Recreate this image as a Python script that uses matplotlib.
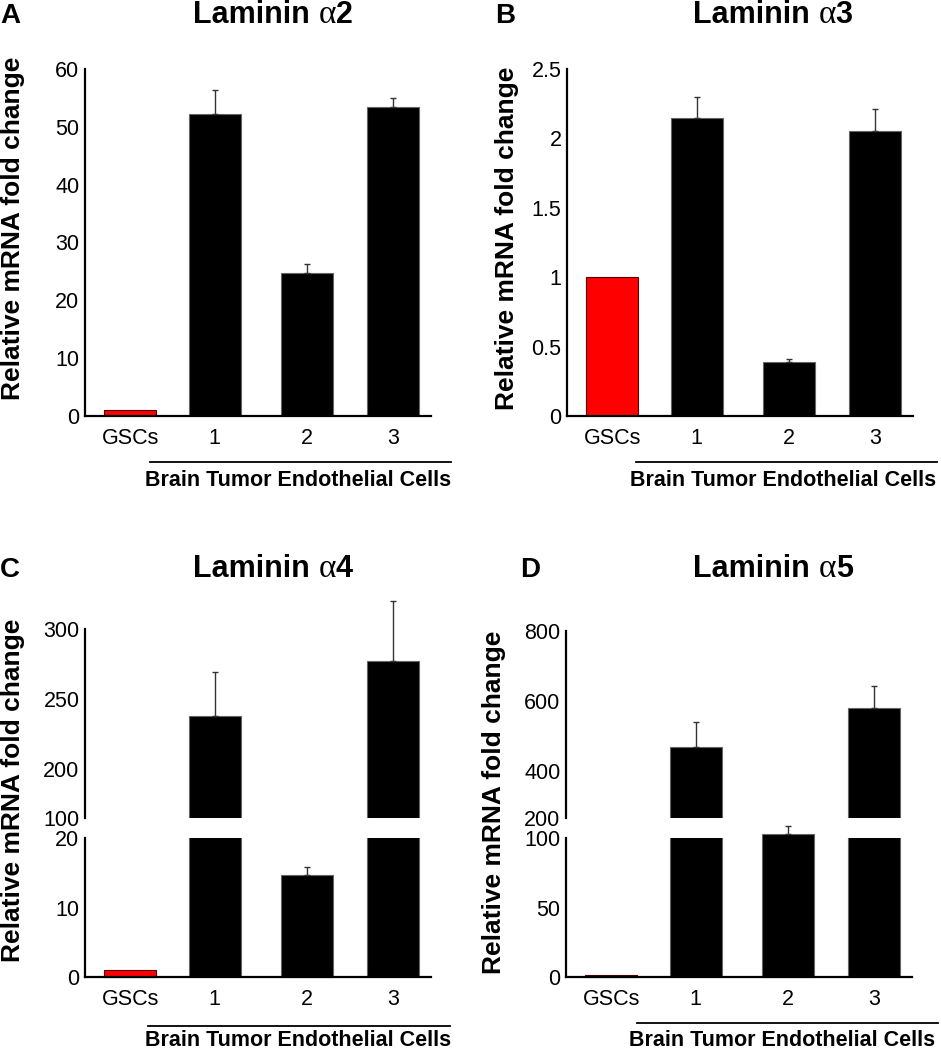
import matplotlib
matplotlib.use('Agg')
import matplotlib.pyplot as plt
from matplotlib.lines import Line2D

plt.rcParams['font.family'] = ['Liberation Sans', 'DejaVu Sans']

# ---------------- data ----------------
categories = ['GSCs', '1', '2', '3']
group_label = 'Brain Tumor Endothelial Cells'
ylabel_text = 'Relative mRNA fold change'
bar_colors = ['#ff0000', '#000000', '#000000', '#000000']

a2_values = [1.0, 52.2, 24.8, 53.5]
a2_errors = [0.0, 4.2, 1.5, 1.5]
a3_values = [1.0, 2.15, 0.39, 2.05]
a3_errors = [0.0, 0.15, 0.02, 0.16]
a4_values = [1.0, 238, 14.7, 277]
a4_errors = [0.0, 31, 1.2, 43]
a5_values = [1.0, 467, 103, 579]
a5_errors = [0.0, 72, 6, 62]

a2_ticks = [0, 10, 20, 30, 40, 50, 60]
a2_ticklabels = ['0', '10', '20', '30', '40', '50', '60']
a3_ticks = [0, 0.5, 1, 1.5, 2, 2.5]
a3_ticklabels = ['0', '0.5', '1', '1.5', '2', '2.5']
a4_low_ticks = [0, 10, 20]
a4_low_ticklabels = ['0', '10', '20']
a4_up_ticks = [165.5, 200, 250, 300]
a4_up_ticklabels = ['100', '200', '250', '300']
a5_low_ticks = [0, 50, 100]
a5_low_ticklabels = ['0', '50', '100']
a5_up_ticks = [265.7, 400, 600, 800]
a5_up_ticklabels = ['200', '400', '600', '800']

# ---------------- layout ----------------
W, H = 941, 1050
fig = plt.figure(figsize=(W / 100, H / 100), dpi=100)

positions = [0.49, 1.41, 2.41, 3.35]
XLIM = (0, 3.76)
BAR_W = 0.57
TICK_FS = 15.5
AX_LW = 1.6
ERR_COLOR = '#333333'


def px_rect(l, t, r, b):
    return [l / W, 1 - b / H, (r - l) / W, (b - t) / H]


def style_axis(ax, bottom=True):
    ax.spines['top'].set_visible(False)
    ax.spines['right'].set_visible(False)
    ax.spines['left'].set_linewidth(AX_LW)
    if bottom:
        ax.spines['bottom'].set_linewidth(AX_LW)
    else:
        ax.spines['bottom'].set_visible(False)
    ax.tick_params(axis='both', length=0, labelsize=TICK_FS)
    ax.tick_params(axis='y', pad=4)
    ax.tick_params(axis='x', pad=9)
    ax.set_xlim(*XLIM)
    ax.patch.set_alpha(0)


def draw_bars(ax, values, clip_flags):
    edges = ['#550000' if c == '#ff0000' else '#666666' for c in bar_colors]
    bars = ax.bar(positions, values, width=BAR_W, color=bar_colors,
                  edgecolor=edges, linewidth=0.8, zorder=2)
    for b, clip in zip(bars, clip_flags):
        b.set_clip_on(clip)
    return bars


def draw_errors(ax, values, errors, mask):
    for p, v, e, m in zip(positions, values, errors, mask):
        if m and e > 0:
            ax.errorbar([p], [v], yerr=[[0], [e]], fmt='none', ecolor=ERR_COLOR,
                        elinewidth=1.0, capsize=2.5, capthick=1.0, zorder=3,
                        clip_on=False)


def simple_panel(rect, values, errors, ticks, ticklabels):
    ax = fig.add_axes(px_rect(*rect))
    style_axis(ax)
    draw_bars(ax, values, [True] * 4)
    draw_errors(ax, values, errors, [True] * 4)
    ax.set_ylim(ticks[0], ticks[-1])
    ax.set_yticks(ticks)
    ax.set_yticklabels(ticklabels)
    ax.set_xticks(positions)
    ax.set_xticklabels(categories)
    return ax


def broken_panel(rect_up, rect_low, values, errors, up_ticks, up_labels,
                 low_ticks, low_labels):
    up = fig.add_axes(px_rect(*rect_up))
    style_axis(up, bottom=False)
    up_bottom = up_ticks[0]
    draw_bars(up, values, [True] * 4)
    draw_errors(up, values, errors, [v > up_bottom for v in values])
    up.set_ylim(up_ticks[0], up_ticks[-1])
    up.set_yticks(up_ticks)
    up.set_yticklabels(up_labels)
    up.set_xticks([])

    low = fig.add_axes(px_rect(*rect_low))
    style_axis(low)
    draw_bars(low, values, [v > up_bottom for v in values])
    draw_errors(low, values, errors, [v <= up_bottom for v in values])
    low.set_ylim(low_ticks[0], low_ticks[-1])
    low.set_yticks(low_ticks)
    low.set_yticklabels(low_labels)
    low.set_xticks(positions)
    low.set_xticklabels(categories)
    return up, low


simple_panel((85, 69, 431, 416), a2_values, a2_errors, a2_ticks, a2_ticklabels)
simple_panel((567, 69, 913, 416), a3_values, a3_errors, a3_ticks, a3_ticklabels)
broken_panel((85, 629, 431, 817.7), (85, 838.3, 431, 976.7), a4_values, a4_errors,
             a4_up_ticks, a4_up_ticklabels, a4_low_ticks, a4_low_ticklabels)
broken_panel((566, 630.7, 912, 817.7), (566, 838.3, 912, 976.7), a5_values, a5_errors,
             a5_up_ticks, a5_up_ticklabels, a5_low_ticks, a5_low_ticklabels)

# ---------------- annotations ----------------
renderer = fig.canvas.get_renderer()


def fx(x):
    return x / W


def fy(y):
    return 1 - y / H


def title(x_left, baseline, number):
    t1 = fig.text(fx(x_left), fy(baseline), 'Laminin ', fontsize=22,
                  fontweight='bold', va='baseline', ha='left')
    bb = t1.get_window_extent(renderer)
    t2 = fig.text(bb.x1 / W, fy(baseline), '\u03b1', fontsize=24,
                  family=['Liberation Serif', 'DejaVu Serif'],
                  va='baseline', ha='left')
    bb2 = t2.get_window_extent(renderer)
    fig.text(bb2.x1 / W, fy(baseline), number, fontsize=22,
             fontweight='bold', va='baseline', ha='left')


title(193, 23, '2')
title(693, 23, '3')
title(193, 577, '4')
title(693, 577, '5')

for letter, x, y in [('A', 0, 23), ('B', 495, 23), ('C', 0, 577), ('D', 520, 577)]:
    fig.text(fx(x), fy(y), letter, fontsize=20, fontweight='bold',
             va='baseline', ha='left')

for x, y in [(13, 228), (507, 238), (13, 790), (494, 802)]:
    fig.text(fx(x), fy(y), ylabel_text, rotation=90, fontsize=19,
             fontweight='bold', ha='center', va='center')

for x1, x2, yl, cx, base in [(150, 451, 461.7, 298, 486),
                             (636, 937, 462.3, 783, 486),
                             (148, 450, 1025.7, 298, 1046),
                             (637, 938, 1023, 782, 1046)]:
    fig.add_artist(Line2D([fx(x1), fx(x2)], [fy(yl), fy(yl)],
                          transform=fig.transFigure, color='black', lw=1.3))
    fig.text(fx(cx), fy(base), group_label, fontsize=15.5, fontweight='bold',
             ha='center', va='baseline')

fig.savefig('out.png', dpi=100)
